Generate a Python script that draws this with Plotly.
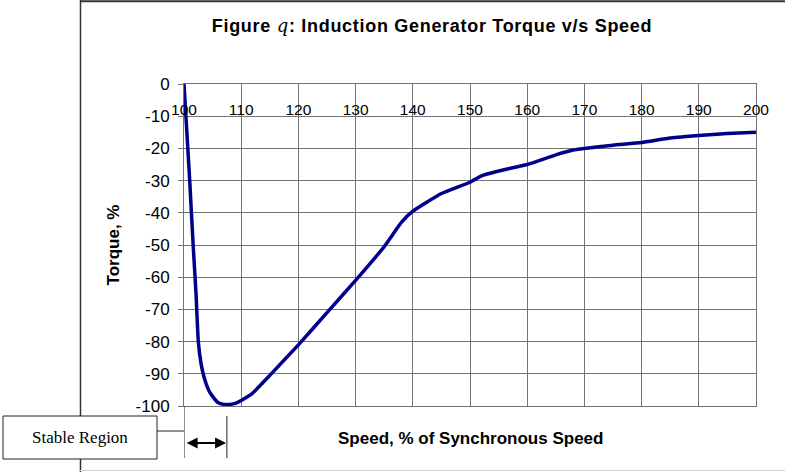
import plotly.graph_objects as go

# Data
speed = [100, 100.5, 101, 101.6, 102.1, 102.5, 103, 103.5, 104.3, 105, 106, 107, 108, 109, 110,
         112, 115, 120, 125, 130, 135, 138, 140, 145, 150, 152, 155, 160, 165, 168, 170,
         175, 180, 185, 190, 195, 200]
torque = [0, -15, -30, -50, -65, -80, -87, -91, -95, -97, -99, -99.5, -99.5, -99.2, -98.3,
          -96, -90.5, -81, -71, -61, -50.5, -43, -39.5, -34, -30.5, -28.5, -27, -25, -22, -20.5, -20,
          -19, -18.2, -16.8, -16, -15.4, -15]
x_ticks = [100, 110, 120, 130, 140, 150, 160, 170, 180, 190, 200]
y_ticks = [0, -10, -20, -30, -40, -50, -60, -70, -80, -90, -100]
stable_start, stable_end = 100, 107.5

FONT = "Liberation Sans, Arial, sans-serif"
GRID = "#737373"

fig = go.Figure()
fig.add_trace(go.Scatter(x=speed, y=torque, mode="lines",
                         line=dict(color="#00008c", width=3.5, shape="spline", smoothing=0.4),
                         cliponaxis=False, showlegend=False, hoverinfo="skip"))
# invisible copy on the overlaying axis so its tick labels get drawn
fig.add_trace(go.Scatter(x=speed, y=torque, mode="lines", xaxis="x2", yaxis="y",
                         line=dict(color="rgba(0,0,0,0)", width=0), opacity=0,
                         showlegend=False, hoverinfo="skip"))


def xp(px):
    return (px - 184) / 572


def yp(py):
    return (406 - py) / 322


fig.update_layout(
    width=785, height=472,
    margin=dict(l=184, r=29, t=84, b=66),
    paper_bgcolor="white", plot_bgcolor="white",
    font=dict(family=FONT, color="black"),
    title=dict(
        text="<b><span style=\"letter-spacing:0.7px\">Figure <span style=\"font-family:'DejaVu Serif';font-weight:normal\"><i>q</i></span>: Induction Generator Torque v/s Speed</span></b>",
        x=432 / 785, xanchor="center", xref="container",
        y=1 - 25.5 / 472, yanchor="middle", yref="container",
        font=dict(size=18, family=FONT, color="black")),
    showlegend=False,
    xaxis=dict(
        range=[100, 200], side="top", tickvals=x_ticks, showticklabels=False, ticks="",
        showgrid=True, gridcolor=GRID, gridwidth=1,
        showline=True, linecolor=GRID, linewidth=1, mirror=True, zeroline=False,
    ),
    xaxis2=dict(
        range=[100, 200], overlaying="x", anchor="free", position=yp(98), side="bottom",
        tickvals=x_ticks, ticktext=[str(v) for v in x_ticks], ticks="",
        showgrid=False, showline=False, zeroline=False,
        tickfont=dict(size=15.5, family=FONT, color="black"),
    ),
    yaxis=dict(
        range=[-100, 0], tickvals=y_ticks, ticktext=[str(v) for v in y_ticks],
        ticks="outside", ticklen=5, tickcolor=GRID, ticklabelstandoff=5,
        showgrid=True, gridcolor=GRID, gridwidth=1,
        showline=True, linecolor=GRID, linewidth=1, mirror=True,
        tickfont=dict(size=17, family=FONT, color="black"), zeroline=False,
        title=dict(text="<b>Torque, %</b>", font=dict(size=17, family=FONT, color="black"), standoff=11),
    ),
)

shapes = [
    # outer frame
    dict(type="line", xref="paper", yref="paper", x0=xp(80.5), x1=xp(80.5), y0=yp(0), y1=yp(474),
         line=dict(color="#333", width=1.5)),
    dict(type="line", xref="paper", yref="paper", x0=xp(80), x1=xp(790), y0=yp(1.2), y1=yp(1.2),
         line=dict(color="#333", width=2)),
    dict(type="line", xref="paper", yref="paper", x0=xp(80), x1=xp(790), y0=yp(470.5), y1=yp(470.5),
         line=dict(color="#d0d0d0", width=1)),
    # stable region box
    dict(type="rect", xref="paper", yref="paper", x0=xp(3), x1=xp(157), y0=yp(416), y1=yp(459),
         line=dict(color="#222", width=1), fillcolor="white"),
    # connector
    dict(type="line", xref="paper", yref="paper", x0=xp(157), x1=xp(184), y0=yp(431), y1=yp(431),
         line=dict(color="#222", width=1)),
    # vertical markers
    dict(type="line", xref="x", yref="paper", x0=stable_start, x1=stable_start, y0=yp(406), y1=yp(458),
         line=dict(color="#222", width=1)),
    dict(type="line", xref="x", yref="paper", x0=stable_end, x1=stable_end, y0=yp(416), y1=yp(458),
         line=dict(color="#222", width=1)),
]
fig.update_layout(shapes=shapes)

fig.add_annotation(x=xp(80), y=yp(437.5), xref="paper", yref="paper", text="Stable Region",
                   xanchor="center", yanchor="middle", showarrow=False,
                   font=dict(size=17, family="Liberation Serif, Times New Roman, serif", color="black"))
fig.add_annotation(x=0.5, y=yp(438), xref="paper", yref="paper",
                   text="<b>Speed, % of Synchronous Speed</b>", showarrow=False,
                   xanchor="center", yanchor="middle",
                   font=dict(size=17, family=FONT, color="black"))
# double-headed arrow
fig.add_annotation(x=stable_end - 0.15, y=yp(443), ax=stable_start + 0.2, ay=0,
                   xref="x", yref="paper", axref="x", ayref="pixel", text="",
                   showarrow=True, arrowside="end+start", arrowhead=2, arrowsize=1.1,
                   arrowwidth=2, arrowcolor="black")

fig.write_html("out.html", config={"displayModeBar": False},
               post_script="document.body.style.margin='0';")
